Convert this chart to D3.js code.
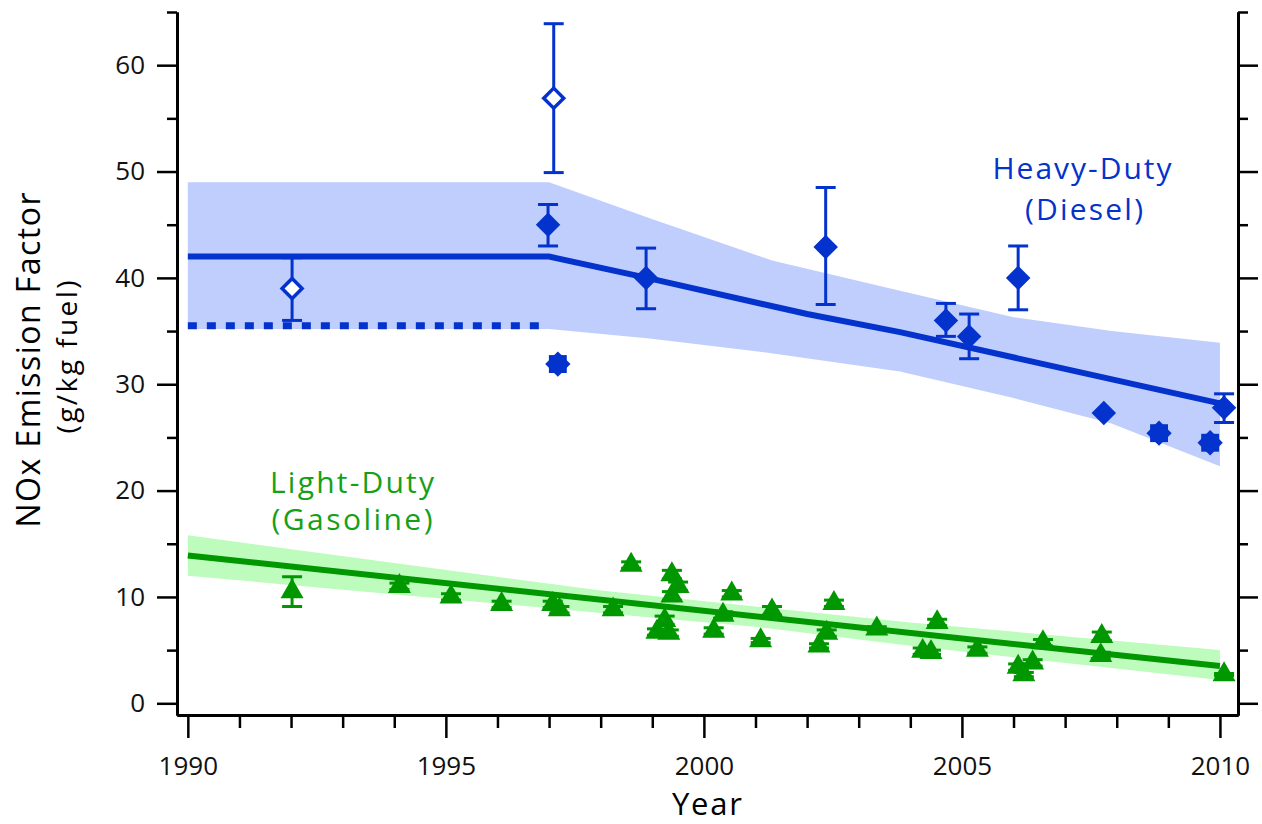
<!DOCTYPE html>
<html>
<head>
<meta charset="utf-8">
<title>NOx Emission Factor</title>
<script src="https://cdnjs.cloudflare.com/ajax/libs/d3/7.8.5/d3.min.js"></script>
<style>
  body { margin: 0; background: #fff; }
  svg text { font-family: 'Open Sans', sans-serif; }
</style>
</head>
<body>
<div id="chart"></div>
<script>
// heavy-duty (diesel): open diamonds
var hdOpenYear = [1992.02, 1997.09];
var hdOpenValue = [39.0, 56.9];
var hdOpenLow = [36.0, 49.9];
var hdOpenHigh = [41.9, 63.9];

// heavy-duty (diesel): filled diamonds
var hdYear = [1996.98, 1998.88, 2002.36, 2004.69, 2005.14, 2006.09, 2007.75, 2010.08];
var hdValue = [45.0, 40.0, 42.9, 36.0, 34.5, 40.0, 27.3, 27.8];
var hdLow = [43.0, 37.1, 37.5, 34.5, 32.4, 37.0, null, 26.4];
var hdHigh = [46.9, 42.8, 48.5, 37.6, 36.6, 43.0, null, 29.1];

// heavy-duty (diesel): stars
var hdStarYear = [1997.17, 2008.82, 2009.81];
var hdStarValue = [31.9, 25.4, 24.5];

// heavy-duty fit and band
var hdFitYear = [1990, 1997, 1998.9, 2002, 2003.8, 2010];
var hdFitValue = [42, 42, 40, 36.6, 34.9, 28.2];
var hdBandYear = [1990, 1997, 1998.95, 2001.34, 2003.8, 2006.0, 2007.9, 2010];
var hdBandUpper = [49, 49, 45.6, 41.6, 38.8, 36.3, 35.0, 33.9];
var hdBandLower = [35.2, 35.2, 34.3, 32.9, 31.2, 28.7, 26.3, 22.3];
var hdDottedYear = [1990, 1996.9];
var hdDottedValue = [35.5, 35.5];

// light-duty (gasoline): triangles
var ldYear = [1992.02, 1994.1, 1995.1, 1996.08, 1997.07, 1997.2, 1998.24, 1998.59,
  1999.38, 1999.5, 1999.38, 1999.24, 1999.09, 1999.32, 2000.19, 2000.37, 2000.54,
  2001.1, 2001.32, 2002.23, 2002.38, 2002.52, 2003.35, 2004.24, 2004.4, 2004.52,
  2005.3, 2006.09, 2006.2, 2006.37, 2006.57, 2007.69, 2007.71, 2010.08];
var ldValue = [10.5, 11.0, 10.0, 9.3, 9.3, 8.8, 8.8, 13.0,
  12.1, 11.0, 10.1, 7.8, 6.7, 6.6, 6.8, 8.3, 10.3,
  5.9, 8.7, 5.4, 6.6, 9.4, 7.0, 4.9, 4.8, 7.6,
  5.0, 3.4, 2.7, 3.8, 5.7, 4.5, 6.3, 2.7];
var ldErr = [1.4, 0.3, 0.3, 0.3, 0.3, 0.3, 0.3, 0.3,
  0.4, 0.4, 0.4, 0.4, 0.3, 0.3, 0.3, 0.3, 0.3,
  0.2, 0.4, 0.2, 0.3, 0.3, 0.2, 0.3, 0.2, 0.3,
  0.3, 0.3, 0.2, 0.3, 0.3, 0.3, 0.4, 0.1];

// light-duty fit and band
var ldFitYear = [1990, 2010];
var ldFitValue = [13.9, 3.5];
var ldBandYear = [1990, 1998, 2001, 2004, 2010];
var ldBandUpper = [15.8, 10.6, 9.1, 7.6, 5.0];
var ldBandLower = [12.0, 8.5, 7.2, 5.4, 2.2];

// axes
var yMajor = [0, 10, 20, 30, 40, 50, 60];
var yMinor = [5, 15, 25, 35, 45, 55, 65];
var xMajor = [1990, 1995, 2000, 2005, 2010];
var xMinor = d3.range(1990, 2011).filter(v => v % 5 !== 0);

var blue = '#0332cc', blueBand = '#bfcefc';
var green = '#009700', greenBand = '#bdfcbd', greenText = '#16a016';

var width = 1262, height = 824;
var svg = d3.select('#chart').append('svg')
  .attr('width', width)
  .attr('height', height);

var x = d3.scaleLinear().domain([1989.79, 2010.35]).range([177, 1238]);
var y = d3.scaleLinear().domain([-1.1, 65]).range([715, 12]);

function zip(xs, ys) { return xs.map((v, i) => [v, ys[i]]); }

var line = d3.line().x(d => x(d[0])).y(d => y(d[1]));
var band = d3.area().x(d => x(d.x)).y0(d => y(d.lo)).y1(d => y(d.hi));

// bands
svg.append('path')
  .datum(hdBandYear.map((v, i) => ({x: v, lo: hdBandLower[i], hi: hdBandUpper[i]})))
  .attr('d', band)
  .attr('fill', blueBand);
svg.append('path')
  .datum(ldBandYear.map((v, i) => ({x: v, lo: ldBandLower[i], hi: ldBandUpper[i]})))
  .attr('d', band)
  .attr('fill', greenBand);

// fits
svg.append('path')
  .datum(zip(hdFitYear, hdFitValue))
  .attr('d', line)
  .attr('fill', 'none')
  .attr('stroke', blue)
  .attr('stroke-width', 6);
svg.append('path')
  .datum(zip(hdDottedYear, hdDottedValue))
  .attr('d', line)
  .attr('fill', 'none')
  .attr('stroke', blue)
  .attr('stroke-width', 7)
  .attr('stroke-dasharray', '9 10');
svg.append('path')
  .datum(zip(ldFitYear, ldFitValue))
  .attr('d', line)
  .attr('fill', 'none')
  .attr('stroke', green)
  .attr('stroke-width', 6);

// error bars
function errorBar(g, xv, lo, hi, colour, cap, sw) {
  var px = x(xv);
  g.append('line').attr('x1', px).attr('x2', px).attr('y1', y(lo)).attr('y2', y(hi))
    .attr('stroke', colour).attr('stroke-width', sw);
  [lo, hi].forEach(function (v) {
    g.append('line').attr('x1', px - cap / 2).attr('x2', px + cap / 2)
      .attr('y1', y(v)).attr('y2', y(v))
      .attr('stroke', colour).attr('stroke-width', sw);
  });
}

var bars = svg.append('g');
ldYear.forEach(function (v, i) {
  errorBar(bars, v, ldValue[i] - ldErr[i], ldValue[i] + ldErr[i], green, 20, 3);
});
hdOpenYear.forEach(function (v, i) {
  errorBar(bars, v, hdOpenLow[i], hdOpenHigh[i], blue, 20, 3);
});
hdYear.forEach(function (v, i) {
  if (hdLow[i] != null) errorBar(bars, v, hdLow[i], hdHigh[i], blue, 20, 3);
});

// markers
var square = d3.symbol().type(d3.symbolSquare);
var tri = d3.symbol().type(d3.symbolTriangle).size(230);

svg.append('g').selectAll('path')
  .data(zip(ldYear, ldValue))
  .enter().append('path')
  .attr('d', tri)
  .attr('transform', d => `translate(${x(d[0])},${y(d[1])})`)
  .attr('fill', green);

svg.append('g').selectAll('path')
  .data(zip(hdOpenYear, hdOpenValue))
  .enter().append('path')
  .attr('d', square.size(200)())
  .attr('transform', d => `translate(${x(d[0])},${y(d[1])}) rotate(45)`)
  .attr('fill', '#fff')
  .attr('stroke', blue)
  .attr('stroke-width', 3.5);

svg.append('g').selectAll('path')
  .data(zip(hdYear, hdValue))
  .enter().append('path')
  .attr('d', square.size(300)())
  .attr('transform', d => `translate(${x(d[0])},${y(d[1])}) rotate(45)`)
  .attr('fill', blue);

var stars = svg.append('g').selectAll('g')
  .data(zip(hdStarYear, hdStarValue))
  .enter().append('g')
  .attr('transform', d => `translate(${x(d[0])},${y(d[1])})`);
stars.append('path').attr('d', square.size(320)()).attr('fill', blue);
stars.append('path').attr('d', square.size(320)()).attr('transform', 'rotate(45)').attr('fill', blue);

// axes
function styleAxis(g) {
  g.select('.domain').attr('stroke-width', 3);
  g.selectAll('.tick line').attr('stroke-width', 2.5);
  g.selectAll('.tick text').attr('fill', '#111');
}

svg.append('g')
  .attr('transform', 'translate(177,0)')
  .call(d3.axisLeft(y).tickValues(yMajor).tickSize(20).tickSizeOuter(0).tickPadding(12))
  .call(g => g.selectAll('.tick text').style('font-size', '26px'))
  .call(styleAxis);
svg.append('g')
  .attr('transform', 'translate(177,0)')
  .call(d3.axisLeft(y).tickValues(yMinor).tickSize(10).tickSizeOuter(0).tickFormat(''))
  .call(styleAxis);

svg.append('g')
  .attr('transform', 'translate(1238,0)')
  .call(d3.axisRight(y).tickValues(yMajor).tickSize(20).tickSizeOuter(0).tickFormat(''))
  .call(styleAxis);
svg.append('g')
  .attr('transform', 'translate(1238,0)')
  .call(d3.axisRight(y).tickValues(yMinor).tickSize(10).tickSizeOuter(0).tickFormat(''))
  .call(styleAxis);

svg.append('g')
  .attr('transform', 'translate(0,715)')
  .call(d3.axisBottom(x).tickValues(xMajor).tickSize(23).tickSizeOuter(0).tickPadding(19).tickFormat(d3.format('d')))
  .call(g => g.selectAll('.tick text').style('font-size', '26px'))
  .call(styleAxis);
svg.append('g')
  .attr('transform', 'translate(0,715)')
  .call(d3.axisBottom(x).tickValues(xMinor).tickSize(13).tickSizeOuter(0).tickFormat(''))
  .call(styleAxis);

// axis titles
svg.append('text')
  .attr('x', 707).attr('y', 815)
  .attr('text-anchor', 'middle')
  .attr('textLength', 70)
  .style('font-size', '31px')
  .text('Year');

svg.append('text')
  .attr('transform', 'translate(40,360) rotate(-90)')
  .attr('text-anchor', 'middle')
  .attr('textLength', 335)
  .style('font-size', '32px')
  .text('NOx Emission Factor');
svg.append('text')
  .attr('transform', 'translate(77,357) rotate(-90)')
  .attr('text-anchor', 'middle')
  .attr('textLength', 153)
  .style('font-size', '28px')
  .text('(g/kg fuel)');

// series labels
function seriesLabel(tx, ty, len, colour, s) {
  svg.append('text').attr('x', tx).attr('y', ty).attr('text-anchor', 'middle')
    .attr('textLength', len)
    .style('font-size', '30px').attr('fill', colour).text(s);
}
seriesLabel(1082, 179, 179, blue, 'Heavy-Duty');
seriesLabel(1084, 220, 118, blue, '(Diesel)');
seriesLabel(352, 493, 164, greenText, 'Light-Duty');
seriesLabel(352, 530, 161, greenText, '(Gasoline)');
</script>
</body>
</html>
